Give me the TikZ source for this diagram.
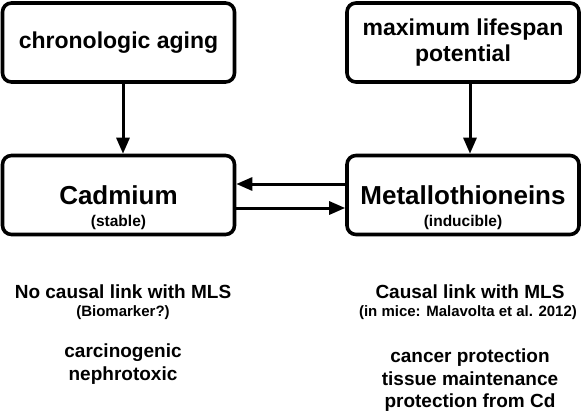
\documentclass[tikz,border=0pt]{standalone}
\usepackage{fontspec}
\setmainfont{Liberation Sans}
\usetikzlibrary{arrows.meta}

\begin{document}
\begin{tikzpicture}[x=1pt, y=-1pt,
        box/.style={draw, line width=3.6pt, rounded corners=9pt, minimum width=232pt, minimum height=79pt, inner sep=0pt, align=center, font=\bfseries\fontsize{23}{26}\selectfont},
        big_node/.style={font=\bfseries\fontsize{26}{30}\selectfont},
        sub_node/.style={font=\bfseries\fontsize{15.5}{18}\selectfont},
        small_node/.style={font=\bfseries\fontsize{15}{18}\selectfont},
        text_node/.style={align=center, font=\bfseries\fontsize{19}{23}\selectfont},
        link/.style={line width=3pt, -{Triangle[length=16pt, width=13pt]}}
    ]
    \useasboundingbox (0,0) rectangle (582,413);

    % Riquadri
    \node[box] (chrono) at (118.5,42.5) {chronologic aging};
    \node[box] (mlsp) at (463,42.5) {maximum lifespan\\potential};
    \node[box, big_node] (cadm) at (118.5,195) {Cadmium};
    \node[box, big_node] (metal) at (463,195) {Metallothioneins};
    \node[sub_node] (cadmsub) at (118.5,222) {(stable)};
    \node[sub_node] (metalsub) at (463,222) {(inducible)};

    % Frecce
    \draw[link] ([xshift=4.5pt]chrono.south) -- ([xshift=4.5pt]cadm.north);
    \draw[link] ([xshift=7pt]mlsp.south) -- ([xshift=7pt]metal.north);
    \draw[link] ([yshift=11pt]metal.west) -- ([yshift=11pt]cadm.east);
    \draw[link] ([yshift=-13pt]cadm.east) -- ([yshift=-13pt]metal.west);

    % Note sotto
    \node[text_node] (nolink) at (123,292) {No causal link with MLS};
    \node[small_node] (biomark) at (123,313) {(Biomarker?)};
    \node[text_node] (cdfx) at (123,364.5) {carcinogenic\\nephrotoxic};
    \node[text_node] (link) at (470,292) {Causal link with MLS};
    \node[small_node] (mice) at (468,313) {(in mice: Malavolta et al. 2012)};
    \node[text_node, font=\bfseries\fontsize{19}{22.5}\selectfont] (mtfx) at (470,380.5) {cancer protection\\tissue maintenance\\protection from Cd};
\end{tikzpicture}
\end{document}
